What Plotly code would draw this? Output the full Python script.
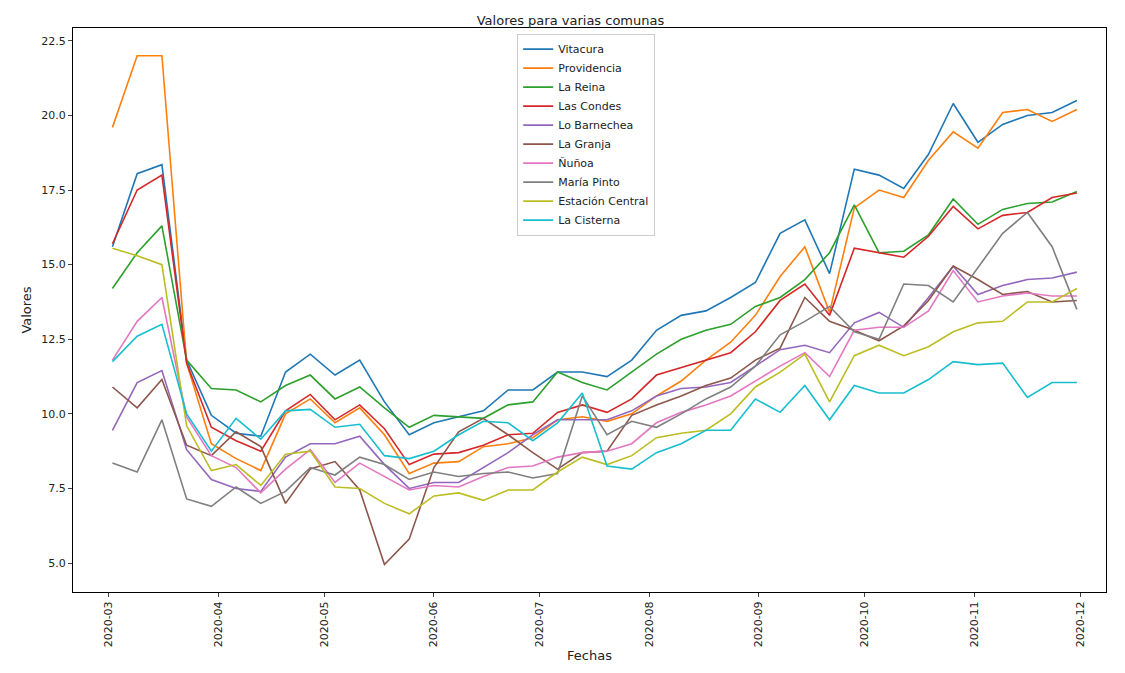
import pandas as pd
import plotly.graph_objects as go

fechas = pd.date_range("2020-03-02", periods=40, freq="7D")

vitacura = [15.6,18.05,18.35,11.8,9.95,9.35,9.25,11.4,12.0,11.3,11.8,10.4,9.3,9.7,9.9,10.1,10.8,10.8,11.4,11.4,11.25,11.8,12.8,13.3,13.45,13.9,14.4,16.05,16.5,14.7,18.2,18.0,17.55,18.7,20.4,19.1,19.7,20.0,20.1,20.5]
providencia = [19.6,22.0,22.0,11.7,9.0,8.5,8.1,10.0,10.5,9.7,10.2,9.3,8.0,8.35,8.4,8.9,9.0,9.2,9.8,9.9,9.75,10.0,10.6,11.1,11.8,12.4,13.3,14.6,15.6,13.4,16.9,17.5,17.25,18.5,19.45,18.9,20.1,20.2,19.8,20.2]
la_reina = [14.2,15.4,16.3,11.8,10.85,10.8,10.4,10.95,11.3,10.5,10.9,10.2,9.55,9.95,9.9,9.85,10.3,10.4,11.4,11.05,10.8,11.4,12.0,12.5,12.8,13.0,13.6,13.9,14.5,15.4,17.0,15.4,15.45,16.0,17.2,16.35,16.85,17.05,17.1,17.45]
las_condes = [15.7,17.5,18.0,11.7,9.55,9.1,8.75,10.1,10.65,9.8,10.3,9.5,8.3,8.65,8.7,8.95,9.3,9.35,10.05,10.3,10.05,10.5,11.3,11.55,11.8,12.05,12.75,13.8,14.35,13.3,15.55,15.4,15.25,15.95,16.95,16.2,16.65,16.75,17.25,17.4]
lo_barnechea = [9.45,11.05,11.45,8.8,7.8,7.5,7.4,8.55,9.0,9.0,9.25,8.3,7.5,7.7,7.7,8.2,8.7,9.3,9.8,9.8,9.8,10.1,10.6,10.85,10.9,11.05,11.6,12.15,12.3,12.05,13.05,13.4,12.9,13.9,14.95,14.0,14.3,14.5,14.55,14.75]
la_granja = [10.9,10.2,11.15,8.95,8.6,9.4,8.9,7.0,8.15,8.4,7.45,4.95,5.8,8.2,9.4,9.85,9.3,8.7,8.15,8.7,8.75,9.95,10.3,10.6,10.95,11.2,11.8,12.2,13.9,13.1,12.8,12.45,12.95,13.8,14.95,14.5,14.0,14.1,13.75,13.8]
nunoa = [11.8,13.1,13.9,9.9,8.6,8.2,7.35,8.15,8.8,7.7,8.35,7.9,7.45,7.6,7.55,7.9,8.2,8.25,8.55,8.7,8.75,9.0,9.7,10.05,10.3,10.6,11.1,11.6,12.05,11.25,12.8,12.9,12.9,13.45,14.8,13.75,13.95,14.05,13.95,13.95]
maria_pinto = [8.35,8.05,9.8,7.15,6.9,7.55,7.0,7.4,8.2,7.95,8.55,8.3,7.8,8.05,7.9,8.0,8.05,7.85,8.0,10.6,9.3,9.75,9.55,10.0,10.5,10.9,11.6,12.65,13.1,13.6,12.75,12.5,14.35,14.3,13.75,14.9,16.05,16.75,15.6,13.5]
estacion_central = [15.55,15.3,15.0,9.6,8.1,8.3,7.6,8.65,8.75,7.55,7.5,7.0,6.65,7.25,7.35,7.1,7.45,7.45,8.05,8.55,8.3,8.6,9.2,9.35,9.45,10.0,10.9,11.4,12.0,10.4,11.95,12.3,11.95,12.25,12.75,13.05,13.1,13.75,13.75,14.2]
la_cisterna = [11.75,12.6,13.0,10.0,8.75,9.85,9.15,10.1,10.15,9.55,9.65,8.6,8.5,8.75,9.3,9.75,9.7,9.1,9.7,10.7,8.25,8.15,8.7,9.0,9.45,9.45,10.5,10.05,10.95,9.8,10.95,10.7,10.7,11.15,11.75,11.65,11.7,10.55,11.05,11.05]

nombres = ["Vitacura","Providencia","La Reina","Las Condes","Lo Barnechea","La Granja","Ñuñoa","María Pinto","Estación Central","La Cisterna"]
series = [vitacura,providencia,la_reina,las_condes,lo_barnechea,la_granja,nunoa,maria_pinto,estacion_central,la_cisterna]
colores = ["#1f77b4","#ff7f0e","#2ca02c","#d62728","#9467bd","#8c564b","#e377c2","#7f7f7f","#bcbd22","#17becf"]

fig = go.Figure()
for n, s, c in zip(nombres, series, colores):
    fig.add_trace(go.Scatter(x=fechas, y=s, mode="lines", name=n, line=dict(color=c, width=1.6)))

tickvals = pd.date_range("2020-03-01", "2020-12-01", freq="MS")
fig.update_layout(
    width=1125, height=673, plot_bgcolor="white", paper_bgcolor="white",
    margin=dict(l=65, r=27, t=20, b=89),
    font=dict(family="DejaVu Sans", size=11, color="#222"),
    title=dict(text="Valores para varias comunas", x=0.5, xanchor="center", yref="container", y=0.988, yanchor="top", font=dict(size=13)),
    legend=dict(x=0.43, xanchor="left", y=0.99, yanchor="top", bordercolor="#ccc", borderwidth=1, bgcolor="white", font=dict(size=11)),
    xaxis=dict(title=dict(text="Fechas", standoff=4), range=["2020-02-19 20:00", "2020-12-08 06:00"], tickvals=tickvals,
               ticktext=[d.strftime("%Y-%m") for d in tickvals], tickangle=-90, showgrid=False, zeroline=False,
               showline=True, mirror=True, linecolor="black", ticks="outside", ticklen=4),
    yaxis=dict(title=dict(text="Valores", standoff=6), range=[4.03, 22.93], tickvals=[5,7.5,10,12.5,15,17.5,20,22.5],
               ticktext=["5.0","7.5","10.0","12.5","15.0","17.5","20.0","22.5"], showgrid=False, zeroline=False,
               showline=True, mirror=True, linecolor="black", ticks="outside", ticklen=4),
)
fig.write_html("out.html")
